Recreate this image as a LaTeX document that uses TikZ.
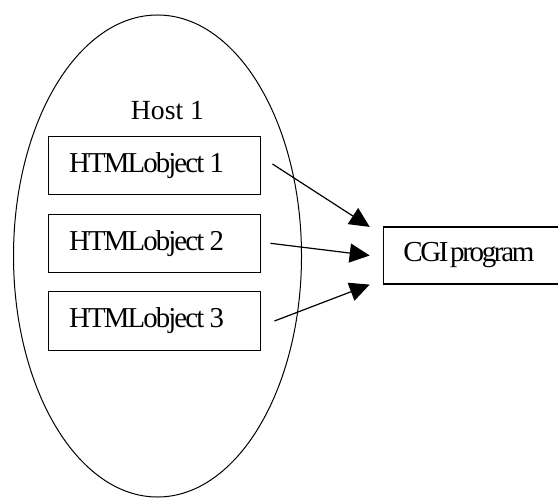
\documentclass[tikz,border=0pt]{standalone}
\usepackage{fontspec}
\setmainfont{Liberation Serif}
\newfontfamily\tightfont[LetterSpace=-6.5]{Liberation Serif}
\newfontfamily\tighterfont[LetterSpace=-8,WordSpace=0.3]{Liberation Serif}
\usetikzlibrary{arrows.meta,shapes.geometric}

\begin{document}
\begin{tikzpicture}[x=1bp, y=-1bp,
    objbox/.style={draw, line width=1.2bp, minimum height=58.3bp, inner xsep=21bp,
      text width=170.7bp, align=flush left, font=\tightfont\fontsize{28.8bp}{30bp}\selectfont},
    cgibox/.style={draw, line width=1.2bp, minimum height=57bp, inner xsep=20bp,
      text width=140bp, align=flush left, font=\tighterfont\fontsize{29bp}{30bp}\selectfont},
    flow/.style={line width=1.2bp, -{Triangle[length=20bp,width=19bp]}}]
    \useasboundingbox (0,0) rectangle (558,498);

    \node[draw, ellipse, line width=1bp, inner sep=0pt,
      minimum width=288bp, minimum height=482bp] (host) at (157.5,256) {};
    \node[font=\fontsize{27.7bp}{30bp}\selectfont] (hostlabel) at (167.5,110.5) {Host 1};

    \node[objbox] (obj1) at (154.5,165.5) {HTMLobject 1};
    \node[objbox] (obj2) at (154.5,243.3) {HTMLobject 2};
    \node[objbox] (obj3) at (154.5,321) {HTMLobject 3};

    \node[cgibox] (cgi) at (473.3,255.5) {CGI program};

    \draw[flow] ([xshift=11bp,yshift=1.5bp]obj1.east) -- ([xshift=-13bp,yshift=-0.5bp]cgi.north west);
    \draw[flow] ([xshift=9bp]obj2.east) -- ([xshift=-13bp]cgi.west);
    \draw[flow] ([xshift=13bp]obj3.east) -- ([xshift=-13bp]cgi.south west);
  \end{tikzpicture}
\end{document}
